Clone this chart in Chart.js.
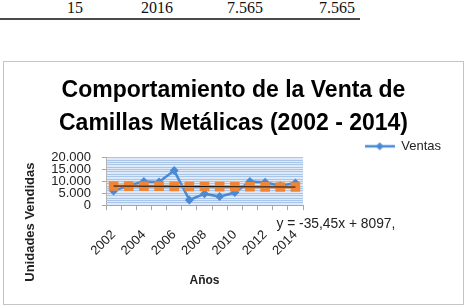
<!DOCTYPE html>
<html>
<head>
<meta charset="utf-8">
<script src="https://cdn.jsdelivr.net/npm/chart.js@4/dist/chart.umd.min.js"></script>
<style>
  html, body { margin: 0; padding: 0; background: #fff; }
  body { width: 470px; height: 308px; position: relative; overflow: hidden; }
  .cell { position: absolute; top: -1px; font-family: "Liberation Serif", serif; font-size: 16px; color: #111; text-align: right; width: 80px; }
  .rule { position: absolute; left: 0; top: 18px; width: 360px; height: 2px; background: #4a4a4a; }
  #box { position: absolute; left: 3px; top: 61px; width: 461px; height: 244px; border: 1px solid #c4c4c4; box-sizing: border-box; }
  canvas { display: block; }
</style>
</head>
<body>
<div class="cell" style="left:3px">15</div>
<div class="cell" style="left:93px">2016</div>
<div class="cell" style="left:183px">7.565</div>
<div class="cell" style="left:275px">7.565</div>
<div class="rule"></div>
<div id="box"><canvas id="c" width="459" height="242"></canvas></div>
<script>
// ---- data ----
const years = ['2002','2003','2004','2005','2006','2007','2008','2009','2010','2011','2012','2013','2014'];
const ventas = [6000, 8300, 10000, 9800, 14600, 2200, 4800, 3600, 5300, 10000, 9700, 8200, 9300];
const tendencia = [8060, 8030, 7990, 7960, 7920, 7890, 7850, 7810, 7780, 7740, 7710, 7670, 7640];
const trendLine = [8060, null, null, null, null, null, null, null, null, null, null, null, 7640];
const shownYears = ['2002','2004','2006','2008','2010','2012','2014'];
const yTickValues = [0, 5000, 10000, 15000, 20000];
const yTickLabels = ['0', '5.000', '10.000', '15.000', '20.000'];
const titleLines = ['Comportamiento de la Venta de', 'Camillas Metálicas (2002 - 2014)'];
const yTitle = 'Unidades Vendidas';
const xTitle = 'Años';
const equationText = 'y = -35,45x + 8097,';

const BLUE = '#4a8ad4';
const ORANGE = '#ef8535';
const FONT = 'Liberation Sans';

// legend icon: line with diamond
const icon = document.createElement('canvas');
icon.width = 30; icon.height = 10;
(function(){
  const g = icon.getContext('2d');
  g.strokeStyle = BLUE; g.lineWidth = 2.5;
  g.beginPath(); g.moveTo(0,5); g.lineTo(30,5); g.stroke();
  g.fillStyle = BLUE;
  g.beginPath(); g.moveTo(15,1); g.lineTo(19,5); g.lineTo(15,9); g.lineTo(11,5); g.closePath(); g.fill();
})();

const tightLegend = {
  id: 'tightLegend',
  beforeLayout(chart) {
    const lg = chart.legend;
    if (lg && !lg._tight) {
      const f = lg.fit;
      lg.fit = function () { f.call(this); this.height = Math.max(0, this.height - 5); };
      lg._tight = true;
    }
  }
};
const plotBg = {
  id: 'plotBg',
  beforeDraw(chart) {
    const a = chart.chartArea, ctx = chart.ctx;
    ctx.save();
    ctx.fillStyle = '#dfeaf8';
    ctx.fillRect(a.left, a.top, a.right - a.left, a.bottom - a.top);
    ctx.restore();
  }
};
const extraText = {
  id: 'extraText',
  afterDraw(chart) {
    const ctx = chart.ctx, xs = chart.scales.x, a = chart.chartArea;
    ctx.save();
    ctx.font = '13.8px "' + FONT + '"';
    ctx.fillStyle = '#222';
    ctx.textBaseline = 'middle';
    ctx.fillText(equationText, xs.getPixelForValue(years.length - 1) - 19, a.bottom + 19);
    // y axis title (Excel places it lower than the plot centre)
    ctx.font = 'bold 13px "' + FONT + '"';
    ctx.textAlign = 'center';
    ctx.translate(26, a.bottom + 17);
    ctx.rotate(-Math.PI / 2);
    ctx.fillText(yTitle, 0, 0);
    ctx.restore();
  }
};

new Chart(document.getElementById('c'), {
  type: 'line',
  data: {
    labels: years,
    datasets: [
      { label: 'Ventas', data: ventas, borderColor: BLUE, backgroundColor: BLUE, borderWidth: 2.5,
        pointStyle: 'rectRot', pointRadius: 4.5, pointBorderWidth: 0, tension: 0, order: 2 },
      { label: 'Tendencia', data: tendencia, borderColor: ORANGE, backgroundColor: ORANGE, borderWidth: 3,
        pointStyle: 'rect', pointRadius: 6.8, pointBorderWidth: 0, tension: 0, order: 1 },
      { label: 'Lineal', data: trendLine, borderColor: '#111', borderWidth: 1, pointRadius: 0,
        spanGaps: true, tension: 0, order: 0 }
    ]
  },
  options: {
    responsive: false,
    animation: false,
    devicePixelRatio: 1,
    layout: { padding: { left: 22, right: 22, top: 0, bottom: 16 } },
    plugins: {
      title: {
        display: true, text: titleLines, color: '#000',
        font: { family: FONT, size: 23, weight: 'bold', lineHeight: 1.43 },
        padding: { top: 12, bottom: 0 }
      },
      legend: {
        position: 'top', align: 'end',
        labels: {
          filter: (item) => item.text === 'Ventas',
          usePointStyle: true, pointStyle: icon, pointStyleWidth: 30,
          color: '#222', font: { family: FONT, size: 13 }, padding: 0, boxHeight: 13
        }
      },
      tooltip: { enabled: false }
    },
    scales: {
      x: {
        type: 'category', offset: true,
        grid: { display: true, drawOnChartArea: false, offset: true, tickLength: 5, color: '#a6a6a6' },
        border: { color: '#a6a6a6' },
        ticks: {
          autoSkip: false, maxRotation: 45, minRotation: 45, padding: 17,
          color: '#222', font: { family: FONT, size: 13 },
          callback: (v, i) => shownYears.includes(years[i]) ? years[i] : ''
        },
        title: { display: true, text: xTitle, color: '#222', font: { family: FONT, size: 12, weight: 'bold' }, padding: { top: -2, bottom: 0 } }
      },
      y: {
        min: 0, max: 20000,
        afterFit: (s) => { s.width = 80; },
        grid: { color: '#a9c5ea', lineWidth: 1, tickLength: 4,
          tickColor: (c) => (c.tick && yTickValues.includes(c.tick.value)) ? '#a6a6a6' : 'rgba(0,0,0,0)' },
        border: { color: '#b4b4b4' },
        ticks: {
          stepSize: 1000, autoSkip: false, padding: 11, color: '#222', font: { family: FONT, size: 13 },
          callback: (v) => { const k = yTickValues.indexOf(v); return k >= 0 ? yTickLabels[k] : ''; }
        }
      },
      yR: {
        position: 'right', min: 0, max: 1,
        grid: { display: false }, border: { display: false }, ticks: { display: false },
        afterFit: (s) => { s.width = 138; }
      }
    }
  },
  plugins: [tightLegend, plotBg, extraText]
});
</script>
</body>
</html>
